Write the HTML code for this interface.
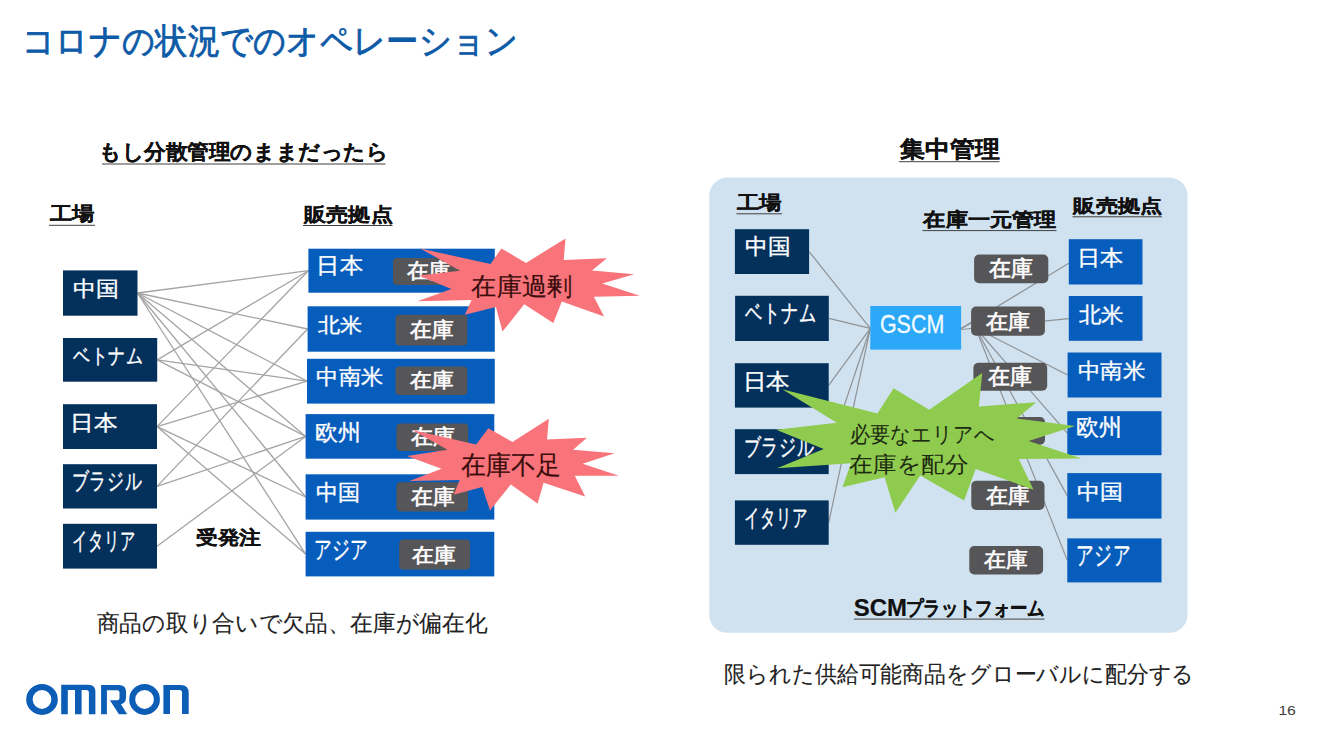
<!DOCTYPE html>
<html><head><meta charset="utf-8"><style>
html,body{margin:0;padding:0;background:#fff;width:1329px;height:740px;overflow:hidden}
svg{display:block;font-family:"Liberation Sans",sans-serif}
</style></head><body>
<svg width="1329" height="740" viewBox="0 0 1329 740">
<rect width="1329" height="740" fill="#ffffff"/>
<text x="22.11" y="52.99" font-size="35.10" textLength="496.34" lengthAdjust="spacingAndGlyphs" fill="#0d5aa7" stroke="#0d5aa7" stroke-width="0.8">コロナの状況でのオペレーション</text>
<text x="98.99" y="158.65" font-size="20.90" textLength="289.53" lengthAdjust="spacingAndGlyphs" fill="#111" font-weight="bold" stroke="#111" stroke-width="0.2">もし分散管理のままだったら</text>
<text x="49.60" y="220.45" font-size="19.09" textLength="44.62" lengthAdjust="spacingAndGlyphs" fill="#111" font-weight="bold" stroke="#111" stroke-width="0.2">工場</text>
<text x="304.26" y="220.58" font-size="19.04" textLength="88.40" lengthAdjust="spacingAndGlyphs" fill="#111" font-weight="bold" stroke="#111" stroke-width="0.2">販売拠点</text>
<text x="195.80" y="543.83" font-size="19.12" textLength="65.42" lengthAdjust="spacingAndGlyphs" fill="#111" font-weight="bold" stroke="#111" stroke-width="0.2">受発注</text>
<text x="96.77" y="631.43" font-size="23.33" textLength="390.66" lengthAdjust="spacingAndGlyphs" fill="#222" stroke="#222" stroke-width="0.1">商品の取り合いで欠品、在庫が偏在化</text>
<text x="899.90" y="157.18" font-size="22.83" textLength="99.55" lengthAdjust="spacingAndGlyphs" fill="#111" font-weight="bold" stroke="#111" stroke-width="0.2">集中管理</text>
<text x="724.49" y="681.95" font-size="22.88" textLength="469.83" lengthAdjust="spacingAndGlyphs" fill="#222" stroke="#222" stroke-width="0.1">限られた供給可能商品をグローバルに配分する</text>
<text x="1278.40" y="715.16" font-size="13.52" textLength="17.47" lengthAdjust="spacingAndGlyphs" fill="#404040">16</text>
<line x1="102.0" y1="164.0" x2="385.5" y2="164.0" stroke="#404040" stroke-width="1.0"/>
<line x1="49.0" y1="225.3" x2="95.0" y2="225.3" stroke="#404040" stroke-width="1.0"/>
<line x1="303.0" y1="225.5" x2="392.5" y2="225.5" stroke="#404040" stroke-width="1.0"/>
<line x1="899.0" y1="161.7" x2="999.5" y2="161.7" stroke="#404040" stroke-width="1.0"/>
<line x1="137.5" y1="293.0" x2="308.4" y2="270.7" stroke="#a4a4a4" stroke-width="1.3"/>
<line x1="137.5" y1="293.0" x2="307.6" y2="329.0" stroke="#a4a4a4" stroke-width="1.3"/>
<line x1="137.5" y1="293.0" x2="307.0" y2="381.2" stroke="#a4a4a4" stroke-width="1.3"/>
<line x1="137.5" y1="293.0" x2="305.6" y2="436.4" stroke="#a4a4a4" stroke-width="1.3"/>
<line x1="137.5" y1="293.0" x2="305.6" y2="497.0" stroke="#a4a4a4" stroke-width="1.3"/>
<line x1="137.5" y1="293.0" x2="305.6" y2="554.1" stroke="#a4a4a4" stroke-width="1.3"/>
<line x1="157.2" y1="359.9" x2="308.4" y2="270.7" stroke="#a4a4a4" stroke-width="1.3"/>
<line x1="157.2" y1="359.9" x2="307.0" y2="381.2" stroke="#a4a4a4" stroke-width="1.3"/>
<line x1="157.2" y1="359.9" x2="305.6" y2="436.4" stroke="#a4a4a4" stroke-width="1.3"/>
<line x1="157.0" y1="426.6" x2="308.4" y2="270.7" stroke="#a4a4a4" stroke-width="1.3"/>
<line x1="157.0" y1="426.6" x2="307.0" y2="381.2" stroke="#a4a4a4" stroke-width="1.3"/>
<line x1="157.0" y1="426.6" x2="305.6" y2="497.0" stroke="#a4a4a4" stroke-width="1.3"/>
<line x1="157.0" y1="426.6" x2="305.6" y2="554.1" stroke="#a4a4a4" stroke-width="1.3"/>
<line x1="157.0" y1="486.4" x2="307.6" y2="329.0" stroke="#a4a4a4" stroke-width="1.3"/>
<line x1="157.0" y1="486.4" x2="305.6" y2="436.4" stroke="#a4a4a4" stroke-width="1.3"/>
<line x1="157.0" y1="546.2" x2="305.6" y2="436.4" stroke="#a4a4a4" stroke-width="1.3"/>
<rect x="63.0" y="270.4" width="74.5" height="45.3" fill="#04305c"/>
<rect x="63.0" y="338.0" width="94.2" height="43.7" fill="#04305c"/>
<rect x="63.0" y="404.2" width="94.0" height="44.8" fill="#04305c"/>
<rect x="63.0" y="464.2" width="94.0" height="44.3" fill="#04305c"/>
<rect x="63.0" y="523.8" width="94.0" height="44.8" fill="#04305c"/>
<rect x="308.4" y="248.7" width="186.4" height="44.0" fill="#075dbc"/>
<rect x="307.6" y="306.3" width="187.2" height="45.4" fill="#075dbc"/>
<rect x="307.0" y="358.8" width="187.8" height="44.8" fill="#075dbc"/>
<rect x="305.6" y="414.1" width="188.7" height="44.6" fill="#075dbc"/>
<rect x="305.6" y="474.3" width="188.7" height="45.3" fill="#075dbc"/>
<rect x="305.6" y="531.8" width="188.7" height="44.6" fill="#075dbc"/>
<text x="72.85" y="296.16" font-size="21.04" textLength="45.95" lengthAdjust="spacingAndGlyphs" fill="#ffffff" stroke="#ffffff" stroke-width="0.35">中国</text>
<text x="72.90" y="363.11" font-size="21.38" textLength="71.20" lengthAdjust="spacingAndGlyphs" fill="#ffffff" stroke="#ffffff" stroke-width="0.35">ベトナム</text>
<text x="70.46" y="429.52" font-size="21.35" textLength="47.25" lengthAdjust="spacingAndGlyphs" fill="#ffffff" stroke="#ffffff" stroke-width="0.35">日本</text>
<text x="71.75" y="489.03" font-size="22.65" textLength="70.40" lengthAdjust="spacingAndGlyphs" fill="#ffffff" stroke="#ffffff" stroke-width="0.35">ブラジル</text>
<text x="72.05" y="548.83" font-size="23.78" textLength="63.55" lengthAdjust="spacingAndGlyphs" fill="#ffffff" stroke="#ffffff" stroke-width="0.35">イタリア</text>
<text x="316.30" y="272.77" font-size="21.77" textLength="46.70" lengthAdjust="spacingAndGlyphs" fill="#ffffff" stroke="#ffffff" stroke-width="0.35">日本</text>
<text x="318.18" y="331.96" font-size="20.31" textLength="44.21" lengthAdjust="spacingAndGlyphs" fill="#ffffff" stroke="#ffffff" stroke-width="0.35">北米</text>
<text x="316.39" y="384.08" font-size="20.94" textLength="66.70" lengthAdjust="spacingAndGlyphs" fill="#ffffff" stroke="#ffffff" stroke-width="0.35">中南米</text>
<text x="314.72" y="439.90" font-size="22.16" textLength="45.90" lengthAdjust="spacingAndGlyphs" fill="#ffffff" stroke="#ffffff" stroke-width="0.35">欧州</text>
<text x="315.89" y="499.67" font-size="21.77" textLength="44.32" lengthAdjust="spacingAndGlyphs" fill="#ffffff" stroke="#ffffff" stroke-width="0.35">中国</text>
<text x="313.70" y="558.15" font-size="25.49" textLength="55.12" lengthAdjust="spacingAndGlyphs" fill="#ffffff" stroke="#ffffff" stroke-width="0.35">アジア</text>
<rect x="393.0" y="258.0" width="72.0" height="27.0" fill="#565658" rx="4"/>
<rect x="395.5" y="314.8" width="71.8" height="30.7" fill="#565658" rx="4"/>
<rect x="395.5" y="366.5" width="71.8" height="28.5" fill="#565658" rx="4"/>
<rect x="396.4" y="423.5" width="71.8" height="27.5" fill="#565658" rx="4"/>
<rect x="396.4" y="482.2" width="71.6" height="29.2" fill="#565658" rx="4"/>
<rect x="399.2" y="539.5" width="70.9" height="30.1" fill="#565658" rx="4"/>
<text x="407.48" y="278.25" font-size="21.12" textLength="43.90" lengthAdjust="spacingAndGlyphs" fill="#ffffff" stroke="#ffffff" stroke-width="0.6">在庫</text>
<text x="410.38" y="336.71" font-size="21.43" textLength="43.59" lengthAdjust="spacingAndGlyphs" fill="#ffffff" stroke="#ffffff" stroke-width="0.6">在庫</text>
<text x="410.38" y="386.51" font-size="19.90" textLength="43.49" lengthAdjust="spacingAndGlyphs" fill="#ffffff" stroke="#ffffff" stroke-width="0.6">在庫</text>
<text x="411.18" y="444.28" font-size="20.92" textLength="43.69" lengthAdjust="spacingAndGlyphs" fill="#ffffff" stroke="#ffffff" stroke-width="0.6">在庫</text>
<text x="411.18" y="504.03" font-size="21.33" textLength="43.69" lengthAdjust="spacingAndGlyphs" fill="#ffffff" stroke="#ffffff" stroke-width="0.6">在庫</text>
<text x="412.38" y="561.81" font-size="19.90" textLength="43.59" lengthAdjust="spacingAndGlyphs" fill="#ffffff" stroke="#ffffff" stroke-width="0.6">在庫</text>
<polygon points="420.3,248.5 490.5,264.0 501.4,248.5 526.0,262.9 565.5,238.5 563.7,260.1 606.9,258.2 591.9,270.4 634.2,274.2 602.2,283.6 639.8,295.8 593.8,296.8 604.1,316.5 561.8,301.5 553.3,323.1 524.2,304.3 502.5,331.6 495.9,307.1 464.9,314.7 471.6,299.9 417.6,301.2 451.4,289.0 418.9,275.5 460.1,270.8" fill="#f8747a"/>
<text x="471.35" y="295.30" font-size="24.70" textLength="100.81" lengthAdjust="spacingAndGlyphs" fill="#3a0c0c" stroke="#3a0c0c" stroke-width="0.2">在庫過剰</text>
<polygon points="412.1,429.9 476.2,444.6 488.3,428.2 512.5,442.0 548.8,418.7 547.1,439.4 586.9,437.7 573.1,449.8 614.6,453.3 582.6,463.7 618.9,475.8 574.8,475.8 585.2,496.5 543.6,482.7 537.6,503.5 510.8,484.4 490.0,510.4 482.2,487.0 453.7,494.8 459.7,480.1 409.5,481.0 441.5,468.8 406.9,455.9 447.6,449.8" fill="#f8747a"/>
<text x="461.35" y="474.04" font-size="26.40" textLength="99.64" lengthAdjust="spacingAndGlyphs" fill="#3a0c0c" stroke="#3a0c0c" stroke-width="0.2">在庫不足</text>
<rect x="709.3" y="177.6" width="478.2" height="455.2" rx="18" fill="#d0e2ef"/>
<text x="736.80" y="209.09" font-size="18.89" textLength="44.92" lengthAdjust="spacingAndGlyphs" fill="#111" font-weight="bold" stroke="#111" stroke-width="0.2">工場</text>
<text x="923.44" y="226.29" font-size="19.42" textLength="132.98" lengthAdjust="spacingAndGlyphs" fill="#111" font-weight="bold" stroke="#111" stroke-width="0.2">在庫一元管理</text>
<text x="1073.47" y="212.21" font-size="18.37" textLength="89.10" lengthAdjust="spacingAndGlyphs" fill="#111" font-weight="bold" stroke="#111" stroke-width="0.2">販売拠点</text>
<text x="853.82" y="616.37" font-size="23.38" textLength="53.19" lengthAdjust="spacingAndGlyphs" fill="#111" font-weight="bold" stroke="#111" stroke-width="0.2">SCM</text>
<text x="905.80" y="615.03" font-size="19.80" textLength="139.02" lengthAdjust="spacingAndGlyphs" fill="#111" font-weight="bold" stroke="#111" stroke-width="0.2">プラットフォーム</text>
<line x1="736.5" y1="213.8" x2="782.0" y2="213.8" stroke="#404040" stroke-width="1.0"/>
<line x1="922.5" y1="230.6" x2="1056.5" y2="230.6" stroke="#404040" stroke-width="1.0"/>
<line x1="1072.5" y1="216.8" x2="1162.0" y2="216.8" stroke="#404040" stroke-width="1.0"/>
<line x1="854.0" y1="619.1" x2="1044.5" y2="619.1" stroke="#404040" stroke-width="1.0"/>
<line x1="809.1" y1="251.6" x2="870.3" y2="328.3" stroke="#8e9296" stroke-width="1.2"/>
<line x1="828.8" y1="318.4" x2="870.3" y2="328.3" stroke="#8e9296" stroke-width="1.2"/>
<line x1="828.7" y1="385.4" x2="870.3" y2="328.3" stroke="#8e9296" stroke-width="1.2"/>
<line x1="828.7" y1="451.6" x2="870.3" y2="328.3" stroke="#8e9296" stroke-width="1.2"/>
<line x1="828.7" y1="522.6" x2="870.3" y2="328.3" stroke="#8e9296" stroke-width="1.2"/>
<line x1="961.1" y1="328.5" x2="971.1" y2="323.2" stroke="#8e9296" stroke-width="1.2"/>
<line x1="961.1" y1="328.6" x2="1068.8" y2="263.2" stroke="#8e9296" stroke-width="1.2"/>
<line x1="961.1" y1="329.5" x2="1068.8" y2="318.6" stroke="#8e9296" stroke-width="1.2"/>
<line x1="975.6" y1="328.0" x2="1067.6" y2="375.0" stroke="#8e9296" stroke-width="1.2"/>
<line x1="975.6" y1="328.0" x2="1067.3" y2="433.2" stroke="#8e9296" stroke-width="1.2"/>
<line x1="975.6" y1="328.0" x2="1067.3" y2="495.9" stroke="#8e9296" stroke-width="1.2"/>
<line x1="975.6" y1="328.0" x2="1067.3" y2="560.4" stroke="#8e9296" stroke-width="1.2"/>
<rect x="734.9" y="229.2" width="74.2" height="44.8" fill="#04305c"/>
<rect x="735.1" y="295.8" width="93.7" height="45.2" fill="#04305c"/>
<rect x="734.9" y="363.2" width="93.8" height="44.4" fill="#04305c"/>
<rect x="734.9" y="429.2" width="93.8" height="44.9" fill="#04305c"/>
<rect x="734.9" y="500.4" width="93.8" height="44.4" fill="#04305c"/>
<rect x="870.3" y="306.0" width="90.8" height="43.6" fill="#2ba8f8"/>
<rect x="1068.8" y="239.2" width="73.7" height="45.3" fill="#075dbc"/>
<rect x="1068.8" y="296.0" width="73.7" height="44.8" fill="#075dbc"/>
<rect x="1067.6" y="352.5" width="93.9" height="45.0" fill="#075dbc"/>
<rect x="1067.3" y="411.2" width="94.2" height="44.0" fill="#075dbc"/>
<rect x="1067.3" y="473.1" width="94.2" height="45.5" fill="#075dbc"/>
<rect x="1067.3" y="538.4" width="94.2" height="44.0" fill="#075dbc"/>
<text x="744.76" y="254.42" font-size="22.19" textLength="45.51" lengthAdjust="spacingAndGlyphs" fill="#ffffff" stroke="#ffffff" stroke-width="0.35">中国</text>
<text x="744.90" y="321.37" font-size="24.48" textLength="71.60" lengthAdjust="spacingAndGlyphs" fill="#ffffff" stroke="#ffffff" stroke-width="0.35">ベトナム</text>
<text x="742.87" y="389.07" font-size="21.77" textLength="47.03" lengthAdjust="spacingAndGlyphs" fill="#ffffff" stroke="#ffffff" stroke-width="0.35">日本</text>
<text x="743.74" y="455.17" font-size="23.06" textLength="70.60" lengthAdjust="spacingAndGlyphs" fill="#ffffff" stroke="#ffffff" stroke-width="0.35">ブラジル</text>
<text x="744.04" y="525.55" font-size="23.67" textLength="64.28" lengthAdjust="spacingAndGlyphs" fill="#ffffff" stroke="#ffffff" stroke-width="0.35">イタリア</text>
<text x="879.93" y="333.15" font-size="25.00" textLength="64.34" lengthAdjust="spacingAndGlyphs" fill="#f2fbff" stroke="#f2fbff" stroke-width="0.3">GSCM</text>
<text x="1077.01" y="264.96" font-size="21.04" textLength="46.48" lengthAdjust="spacingAndGlyphs" fill="#ffffff" stroke="#ffffff" stroke-width="0.35">日本</text>
<text x="1078.88" y="321.52" font-size="21.35" textLength="44.82" lengthAdjust="spacingAndGlyphs" fill="#ffffff" stroke="#ffffff" stroke-width="0.35">北米</text>
<text x="1077.57" y="378.26" font-size="21.04" textLength="67.53" lengthAdjust="spacingAndGlyphs" fill="#ffffff" stroke="#ffffff" stroke-width="0.35">中南米</text>
<text x="1076.42" y="435.47" font-size="23.09" textLength="45.90" lengthAdjust="spacingAndGlyphs" fill="#ffffff" stroke="#ffffff" stroke-width="0.35">欧州</text>
<text x="1076.65" y="499.24" font-size="21.25" textLength="46.05" lengthAdjust="spacingAndGlyphs" fill="#ffffff" stroke="#ffffff" stroke-width="0.35">中国</text>
<text x="1076.00" y="563.94" font-size="25.61" textLength="55.02" lengthAdjust="spacingAndGlyphs" fill="#ffffff" stroke="#ffffff" stroke-width="0.35">アジア</text>
<rect x="974.1" y="254.6" width="74.2" height="28.7" fill="#565658" rx="5"/>
<rect x="971.1" y="306.5" width="73.8" height="29.2" fill="#565658" rx="5"/>
<rect x="973.4" y="362.8" width="73.8" height="28.0" fill="#565658" rx="5"/>
<rect x="971.0" y="417.0" width="74.0" height="27.7" fill="#565658" rx="5"/>
<rect x="971.3" y="480.8" width="73.2" height="29.2" fill="#565658" rx="5"/>
<rect x="969.3" y="546.1" width="73.8" height="28.4" fill="#565658" rx="5"/>
<text x="989.28" y="276.37" font-size="21.73" textLength="43.90" lengthAdjust="spacingAndGlyphs" fill="#ffffff" stroke="#ffffff" stroke-width="0.6">在庫</text>
<text x="986.08" y="328.83" font-size="21.33" textLength="44.10" lengthAdjust="spacingAndGlyphs" fill="#ffffff" stroke="#ffffff" stroke-width="0.6">在庫</text>
<text x="988.38" y="383.87" font-size="21.73" textLength="44.10" lengthAdjust="spacingAndGlyphs" fill="#ffffff" stroke="#ffffff" stroke-width="0.6">在庫</text>
<text x="985.78" y="438.21" font-size="21.43" textLength="44.10" lengthAdjust="spacingAndGlyphs" fill="#ffffff" stroke="#ffffff" stroke-width="0.6">在庫</text>
<text x="986.08" y="502.63" font-size="21.33" textLength="43.69" lengthAdjust="spacingAndGlyphs" fill="#ffffff" stroke="#ffffff" stroke-width="0.6">在庫</text>
<text x="983.88" y="566.53" font-size="21.33" textLength="43.69" lengthAdjust="spacingAndGlyphs" fill="#ffffff" stroke="#ffffff" stroke-width="0.6">在庫</text>
<polygon points="782.2,389.3 877.4,413.6 893.6,388.2 929.2,409.7 982.2,373.0 978.9,406.5 1036.2,402.2 1016.8,418.4 1075.1,426.0 1028.6,441.1 1081.6,458.4 1018.7,459.0 1033.6,489.7 975.7,469.0 964.1,500.4 920.2,475.6 895.4,512.8 884.6,477.3 842.4,487.2 851.0,463.2 777.1,468.3 823.7,449.0 776.1,429.8 836.9,422.7" fill="#8ecb4e"/>
<text x="849.50" y="442.08" font-size="22.23" textLength="145.12" lengthAdjust="spacingAndGlyphs" fill="#1d2a12" stroke="#1d2a12" stroke-width="0.05">必要なエリアへ</text>
<text x="849.46" y="471.58" font-size="22.45" textLength="119.25" lengthAdjust="spacingAndGlyphs" fill="#1d2a12" stroke="#1d2a12" stroke-width="0.05">在庫を配分</text>
<path fill-rule="evenodd" fill="#0b5db6" d="M26.2,699.4 a15.8,15.5 0 1,0 31.6,0 a15.8,15.5 0 1,0 -31.6,0 Z M32.65,699.4 a9.35,9.5 0 1,0 18.7,0 a9.35,9.5 0 1,0 -18.7,0 Z"/>
<path fill="#0b5db6" d="M61.2,714.3 V684.8 H88.4 Q95.4,684.8 95.4,691.8 V714.3 H88.9 V692.5 Q88.9,689.9 86.3,689.9 H81.6 V714.3 H75 V689.9 H67.8 V714.3 Z"/>
<path fill="#0b5db6" d="M101.1,714.3 V685.1 H119 Q126.1,685.1 126.1,692.2 V697 Q126.1,703 121,704.2 L127.2,714.3 H118.9 L109.9,700.2 H117.3 Q119.5,700.2 119.5,698 V692.4 Q119.5,690.2 117.3,690.2 H106.9 V714.3 Z"/>
<path fill-rule="evenodd" fill="#0b5db6" d="M129.20000000000002,699.4 a15.35,15.5 0 1,0 30.7,0 a15.35,15.5 0 1,0 -30.7,0 Z M135.20000000000002,699.4 a9.35,9.5 0 1,0 18.7,0 a9.35,9.5 0 1,0 -18.7,0 Z"/>
<path fill="#0b5db6" d="M163.4,714.1 V685.1 H180.7 Q188.7,685.1 188.7,693.1 V714.1 H182 V692.5 Q182,690 179.5,690 H170 V714.1 Z"/>
</svg></body></html>
